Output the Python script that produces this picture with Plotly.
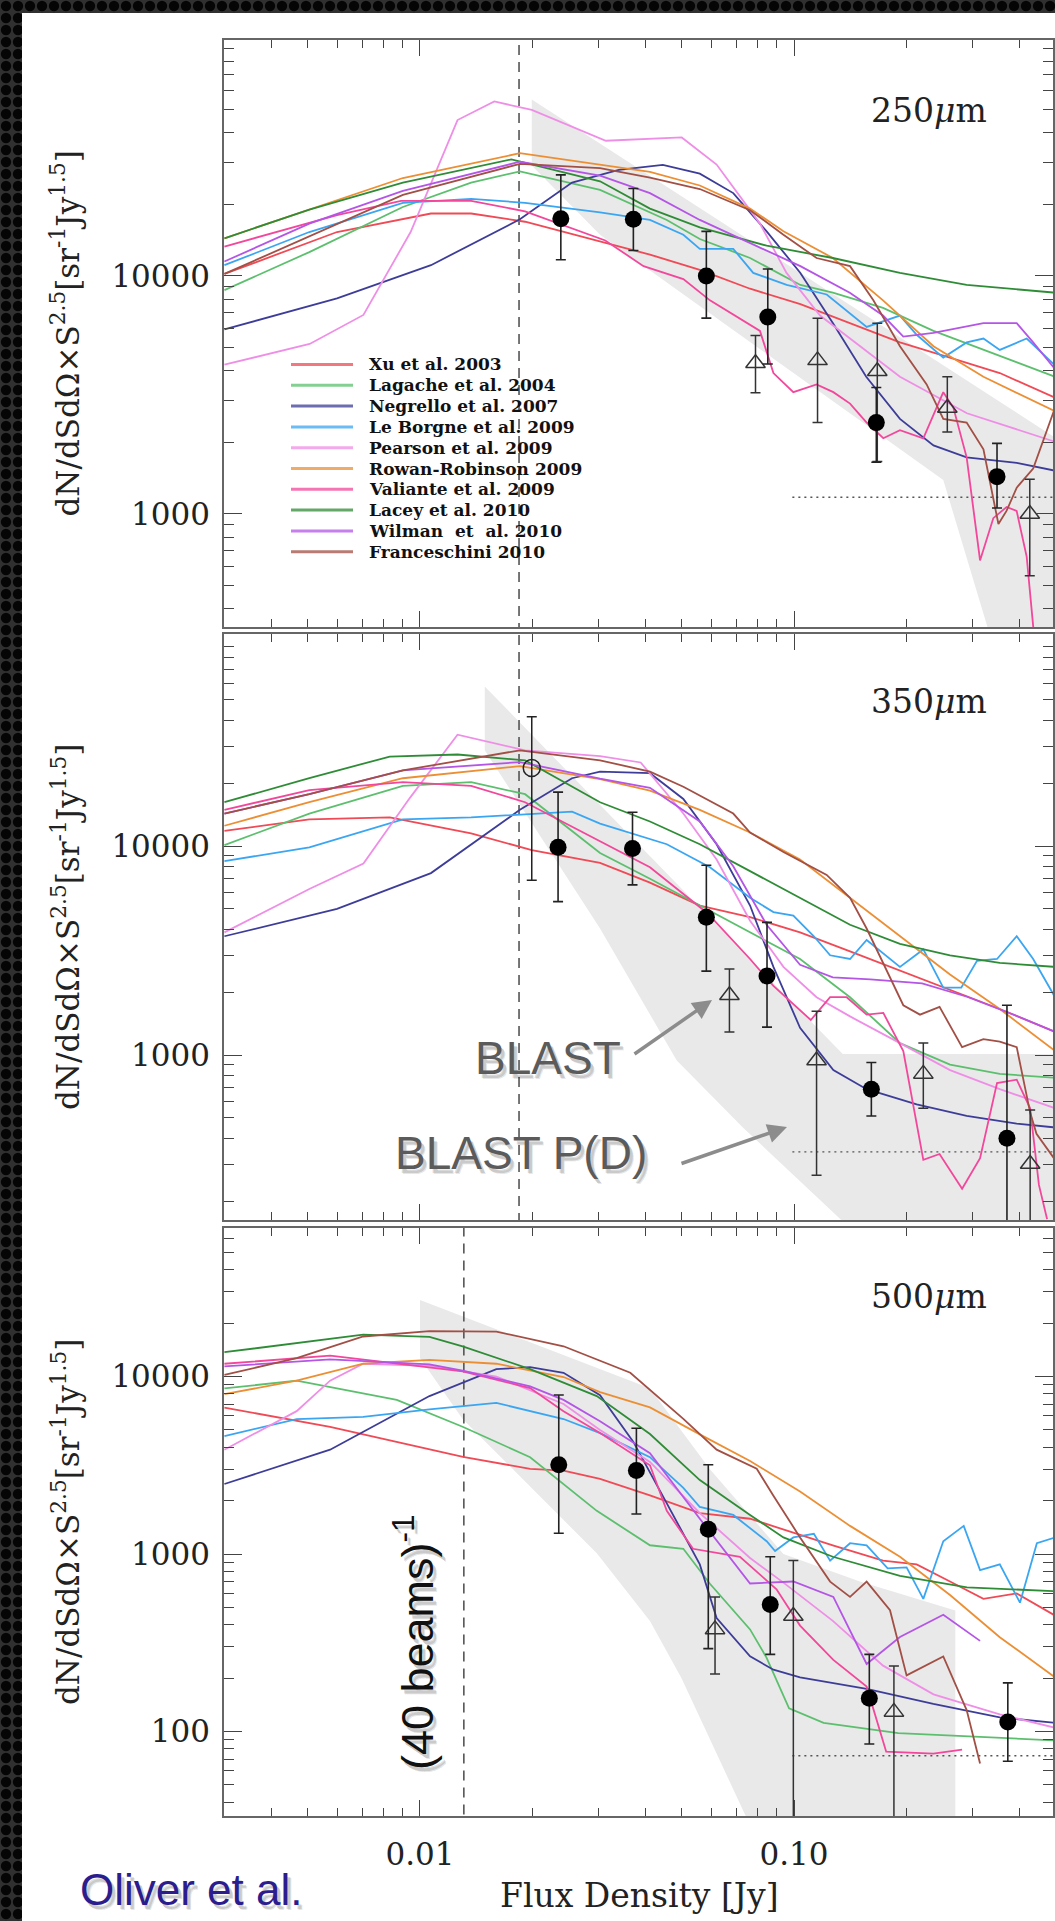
import base64
import plotly.graph_objects as go

W, H = 1055, 1921

# ---------------- legend / model info ----------------
model_names = ["Xu et al. 2003", "Lagache et al. 2004", "Negrello et al. 2007",
               "Le Borgne et al. 2009", "Pearson et al. 2009", "Rowan-Robinson 2009",
               "Valiante et al. 2009", "Lacey et al. 2010", "Wilman  et  al. 2010",
               "Franceschini 2010"]
model_colors = ["#ef4a55", "#5cbf6e", "#3d3d99", "#3aa6f2", "#ef8ee6",
                "#ec8f34", "#f2479b", "#2f8c36", "#b455e6", "#a24f45"]

# ---------------- 250 micron ----------------
xu_250_S = [0.003, 0.006, 0.0107, 0.0137, 0.0191, 0.0303, 0.0412, 0.056, 0.0763, 0.104, 0.141, 0.192, 0.261, 0.355, 0.499]
xu_250_N = [10200, 15300, 18300, 18300, 16900, 14000, 12300, 10600, 8840, 7620, 6340, 5260, 4540, 3910, 3080]
lagache_250_S = [0.003, 0.00506, 0.009, 0.0137, 0.0185, 0.0303, 0.0457, 0.056, 0.0763, 0.104, 0.127, 0.173, 0.236, 0.321, 0.499]
lagache_250_N = [8720, 12600, 19500, 24700, 27500, 23000, 17200, 14300, 11900, 9170, 8510, 7340, 5880, 4890, 3770]
negrello_250_S = [0.003, 0.006, 0.0107, 0.0185, 0.0255, 0.034, 0.0446, 0.056, 0.0688, 0.0845, 0.104, 0.127, 0.156, 0.192, 0.236, 0.2895, 0.394, 0.499]
negrello_250_N = [5960, 8050, 11100, 17300, 24700, 27900, 29300, 26900, 22300, 15400, 10300, 6340, 3770, 2510, 1940, 1730, 1640, 1520]
leborgne_250_S = [0.003, 0.00506, 0.009, 0.0137, 0.0191, 0.0303, 0.0412, 0.0506, 0.056, 0.0688, 0.0778, 0.0956, 0.1223, 0.1564, 0.192, 0.2128, 0.2507, 0.2895, 0.321, 0.355, 0.419, 0.499]
leborgne_250_N = [11100, 15300, 20300, 21100, 20300, 18500, 17200, 14900, 13000, 13000, 10300, 9170, 8360, 6110, 6820, 5660, 4540, 5260, 5460, 4890, 5460, 4210]
pearson_250_S = [0.003, 0.00507, 0.00706, 0.00944, 0.0126, 0.0158, 0.0199, 0.0314, 0.0501, 0.0621, 0.0811, 0.0955, 0.1174, 0.192, 0.29, 0.499]
pearson_250_N = [4240, 5180, 6860, 15300, 45200, 54100, 49900, 37000, 38200, 29400, 16600, 10300, 6820, 3770, 2650, 2010]
rowan_250_S = [0.003, 0.00506, 0.009, 0.0185, 0.0303, 0.0412, 0.056, 0.0763, 0.0937, 0.127, 0.173, 0.236, 0.321, 0.499]
rowan_250_N = [14400, 19000, 25800, 32800, 29400, 27400, 24000, 19200, 15400, 11900, 7900, 5070, 3770, 2700]
valiante_250_S = [0.003, 0.006, 0.0089, 0.0137, 0.0191, 0.0235, 0.0313, 0.0396, 0.0506, 0.0596, 0.0811, 0.0881, 0.0996, 0.1149, 0.1274, 0.1412, 0.1564, 0.1733, 0.192, 0.2217, 0.2507, 0.2667, 0.2895, 0.3144, 0.3411, 0.3703, 0.3938, 0.4189, 0.4363, 0.46]
valiante_250_N = [13300, 18000, 20700, 20700, 18700, 16600, 14100, 11000, 9700, 7900, 5880, 3910, 3250, 3500, 3250, 2910, 2420, 2080, 2250, 2080, 3250, 2800, 1730, 638, 960, 1070, 1030, 662, 334, 200]
lacey_250_S = [0.003, 0.00506, 0.009, 0.01755, 0.0303, 0.0412, 0.056, 0.0845, 0.127, 0.192, 0.2895, 0.499]
lacey_250_N = [14400, 19000, 24700, 30900, 25000, 19200, 16000, 13400, 11900, 10300, 9170, 8510]
wilman_250_S = [0.003, 0.00506, 0.009, 0.0185, 0.0303, 0.0412, 0.056, 0.0763, 0.104, 0.141, 0.173, 0.196, 0.236, 0.321, 0.394, 0.436, 0.499]
wilman_250_N = [11500, 16600, 22800, 30200, 26400, 22300, 17200, 13800, 11000, 8510, 6820, 5560, 5770, 6340, 6340, 5260, 4060]
franceschini_250_S = [0.003, 0.00506, 0.009, 0.0185, 0.0303, 0.0412, 0.056, 0.0763, 0.0937, 0.1149, 0.1412, 0.163, 0.192, 0.2263, 0.2507, 0.2895, 0.321, 0.352, 0.370, 0.394, 0.436, 0.499]
franceschini_250_N = [10200, 14700, 21900, 29600, 28400, 25900, 23200, 18900, 14900, 11900, 11000, 7900, 5070, 3500, 2510, 2420, 1870, 907, 1030, 1290, 1550, 2800]

circ_250_S = [0.0238, 0.0372, 0.0583, 0.0851, 0.166, 0.349]
circ_250_N = [17400, 17300, 10000, 6730, 2420, 1435]
circ_250_hi = [26600, 23300, 15400, 10700, 3400, 1980]
circ_250_lo = [11700, 12800, 6650, 4270, 1650, 1060]
tri_250_S = [0.0789, 0.1156, 0.167, 0.257, 0.427]
tri_250_N = [4300, 4420, 3980, 2790, 1000]
tri_250_hi = [5620, 6640, 6330, 3770, 1400]
tri_250_lo = [3230, 2420, 1660, 2210, 550]
band_250_S = [0.0199, 0.5, 0.5, 0.34, 0.33, 0.2507, 0.0303, 0.0199]
band_250_N = [55200, 2090, 100, 100, 330, 1390, 14900, 29100]

# ---------------- 350 micron ----------------
xu_350_S = [0.003, 0.00506, 0.0083, 0.0137, 0.0199, 0.0303, 0.0412, 0.056, 0.0763, 0.1038, 0.1412, 0.192, 0.2613, 0.355, 0.499]
xu_350_N = [11800, 13400, 13700, 11500, 9560, 8300, 6680, 5190, 4570, 3860, 3130, 2530, 2050, 1660, 1290]
lagache_350_S = [0.003, 0.00506, 0.009, 0.0137, 0.0191, 0.0303, 0.0412, 0.056, 0.0763, 0.1038, 0.1412, 0.192, 0.2613, 0.355, 0.499]
lagache_350_N = [10100, 14300, 19400, 20200, 17700, 9260, 6970, 5190, 3870, 2880, 1890, 1140, 900, 812, 778]
negrello_350_S = [0.003, 0.006, 0.0107, 0.0185, 0.0255, 0.0303, 0.0412, 0.0506, 0.0621, 0.0763, 0.0881, 0.1038, 0.1274, 0.1564, 0.2128, 0.2895, 0.394, 0.499]
negrello_350_N = [3700, 5000, 7420, 14900, 21100, 22700, 22300, 16800, 10200, 5190, 2640, 1350, 847, 686, 580, 511, 469, 450]
leborgne_350_S = [0.003, 0.00506, 0.009, 0.0137, 0.0255, 0.0303, 0.0457, 0.0596, 0.0763, 0.0881, 0.0996, 0.113, 0.1249, 0.1412, 0.1564, 0.192, 0.2217, 0.2507, 0.28, 0.3085, 0.349, 0.394, 0.436, 0.499]
leborgne_350_N = [8460, 9860, 13400, 13700, 14600, 12800, 10200, 7910, 5650, 4830, 4640, 3700, 3000, 2880, 3550, 2640, 3200, 2100, 2100, 2820, 2880, 3700, 2880, 1890]
pearson_350_S = [0.003, 0.00506, 0.00706, 0.0094, 0.0126, 0.0191, 0.0303, 0.0389, 0.0506, 0.0621, 0.0763, 0.0937, 0.1149, 0.1412, 0.192, 0.2613, 0.355, 0.499]
pearson_350_N = [3860, 6230, 8250, 17000, 34100, 28700, 26900, 25100, 14300, 8610, 4390, 2640, 1890, 1530, 1140, 847, 686, 556]
rowan_350_S = [0.003, 0.00506, 0.009, 0.0185, 0.0303, 0.0412, 0.056, 0.0763, 0.1038, 0.1412, 0.192, 0.2613, 0.355, 0.499]
rowan_350_N = [12500, 16200, 21100, 24100, 20900, 18400, 14900, 11600, 8610, 5650, 3700, 2430, 1660, 1045]
valiante_350_S = [0.003, 0.00506, 0.009, 0.0137, 0.0191, 0.0303, 0.0412, 0.0587, 0.0763, 0.0881, 0.1109, 0.1249, 0.1383, 0.1564, 0.1733, 0.196, 0.2217, 0.245, 0.2815, 0.3144, 0.349, 0.394, 0.4279, 0.4517, 0.475]
valiante_350_N = [14900, 18500, 20200, 19400, 16200, 10500, 7910, 4770, 2880, 2140, 1470, 1890, 1890, 1560, 1590, 1045, 315, 336, 229, 321, 734, 762, 556, 239, 164]
lacey_350_S = [0.003, 0.00506, 0.0083, 0.0126, 0.0191, 0.0303, 0.0412, 0.056, 0.0763, 0.1038, 0.1412, 0.192, 0.2613, 0.355, 0.499]
lacey_350_N = [16200, 21100, 26800, 27400, 25700, 16200, 13100, 10200, 7580, 5650, 4200, 3400, 3000, 2760, 2640]
wilman_350_S = [0.003, 0.00506, 0.009, 0.0185, 0.0303, 0.0412, 0.056, 0.0688, 0.0845, 0.1038, 0.127, 0.16, 0.22, 0.29, 0.39, 0.499]
wilman_350_N = [14300, 17700, 23000, 25200, 21000, 19000, 13100, 8000, 4200, 2700, 2350, 2300, 2200, 1900, 1550, 1290]
franceschini_350_S = [0.003, 0.00506, 0.009, 0.0185, 0.0303, 0.0412, 0.0506, 0.0688, 0.0763, 0.0937, 0.1223, 0.1412, 0.1564, 0.1733, 0.196, 0.2172, 0.245, 0.2815, 0.3209, 0.355, 0.394, 0.428, 0.445, 0.499]
franceschini_350_N = [14300, 17700, 23000, 28700, 25700, 22700, 19200, 14300, 11600, 9360, 7270, 5650, 4030, 2760, 1730, 1560, 1700, 1090, 1190, 1160, 1090, 530, 420, 315]

circ_350_S = [0.0234, 0.0370, 0.0583, 0.0847, 0.161, 0.371]
circ_350_N = [9860, 9730, 4560, 2390, 686, 400]
circ_350_hi = [18100, 14500, 8090, 4310, 921, 1730]
circ_350_lo = [5420, 6520, 2520, 1360, 511, 100]
open_350_S = [0.0199]
open_350_N = [23600]
open_350_hi = [41500]
open_350_lo = [6850]
tri_350_S = [0.0672, 0.1149, 0.2217, 0.428]
tri_350_N = [1930, 941, 812, 301]
tri_350_hi = [2580, 1620, 1140, 546]
tri_350_lo = [1290, 266, 556, 100]
band_350_S = [0.0149, 0.135, 0.5, 0.5, 0.135, 0.073, 0.0486, 0.0303, 0.0149]
band_350_N = [58000, 1010, 1010, 100, 160, 450, 940, 4030, 28700]

# ---------------- 500 micron ----------------
xu_500_S = [0.003, 0.00575, 0.01303, 0.0197, 0.0242, 0.0303, 0.0412, 0.056, 0.0763, 0.0937, 0.127, 0.173, 0.2128, 0.2613, 0.321, 0.394, 0.499]
xu_500_N = [6680, 5210, 3520, 3020, 2950, 2650, 2140, 1700, 1580, 1370, 1120, 918, 874, 700, 559, 600, 450]
lagache_500_S = [0.003, 0.00468, 0.00867, 0.013, 0.0197, 0.0297, 0.0412, 0.0506, 0.0596, 0.0763, 0.0845, 0.097, 0.12, 0.19, 0.5]
lagache_500_N = [8570, 9470, 7380, 5210, 3510, 1750, 1120, 1070, 680, 376, 260, 135, 112, 98, 89]
negrello_500_S = [0.003, 0.00575, 0.0106, 0.016, 0.0197, 0.0242, 0.0303, 0.0372, 0.0457, 0.056, 0.0621, 0.0763, 0.0881, 0.1038, 0.1564, 0.2358, 0.355, 0.499]
negrello_500_N = [2480, 3870, 7760, 11000, 11300, 10500, 7840, 4280, 1930, 874, 436, 265, 223, 202, 174, 143, 120, 112]
leborgne_500_S = [0.003, 0.00468, 0.00705, 0.0106, 0.016, 0.0242, 0.0303, 0.0412, 0.0506, 0.056, 0.0688, 0.0845, 0.089, 0.0996, 0.113, 0.1249, 0.1412, 0.1564, 0.178, 0.2, 0.2217, 0.2507, 0.2843, 0.3144, 0.355, 0.402, 0.446, 0.499]
leborgne_500_N = [4620, 5760, 5920, 6530, 7100, 5760, 4800, 3510, 2360, 1840, 1660, 1180, 1040, 1240, 1300, 918, 1150, 1120, 831, 840, 559, 1180, 1440, 812, 874, 532, 1150, 1240]
pearson_500_S = [0.003, 0.00468, 0.00575, 0.00705, 0.0106, 0.016, 0.0242, 0.0303, 0.0412, 0.056, 0.0763, 0.0937, 0.127, 0.173, 0.236, 0.355, 0.499]
pearson_500_N = [3870, 6380, 9470, 11800, 11500, 10000, 7000, 5000, 3300, 1700, 950, 690, 420, 235, 162, 125, 105]
rowan_500_S = [0.003, 0.00468, 0.00705, 0.0106, 0.016, 0.0242, 0.0303, 0.0412, 0.056, 0.0763, 0.1038, 0.1412, 0.192, 0.2613, 0.355, 0.499]
rowan_500_N = [7960, 9470, 11800, 12400, 11800, 9930, 8160, 6700, 4720, 3340, 2250, 1440, 965, 587, 340, 202]
valiante_500_S = [0.003, 0.00575, 0.013, 0.0197, 0.0242, 0.0303, 0.0412, 0.0457, 0.0537, 0.0717, 0.0898, 0.1038, 0.1274, 0.1564, 0.1764, 0.2358, 0.2815]
valiante_500_N = [11800, 13100, 10700, 8600, 6380, 4800, 3160, 1750, 1070, 965, 633, 395, 253, 179, 77, 75, 79]
lacey_500_S = [0.003, 0.00705, 0.0106, 0.013, 0.0197, 0.0297, 0.0412, 0.056, 0.0763, 0.0937, 0.127, 0.192, 0.29, 0.499]
lacey_500_N = [13700, 17200, 16700, 14800, 11000, 7760, 4740, 2610, 1660, 1240, 965, 753, 649, 617]
wilman_500_S = [0.003, 0.00575, 0.0106, 0.013, 0.0197, 0.0242, 0.0303, 0.0412, 0.056, 0.0763, 0.0996, 0.1274, 0.1564, 0.192, 0.2507, 0.3144]
wilman_500_N = [11400, 12500, 11700, 10800, 8800, 7380, 5600, 3700, 1580, 682, 700, 573, 240, 341, 455, 324]
franceschini_500_S = [0.003, 0.00468, 0.00705, 0.0106, 0.016, 0.0242, 0.0365, 0.0506, 0.0621, 0.0795, 0.0881, 0.1038, 0.1249, 0.1412, 0.1564, 0.1806, 0.2, 0.2507, 0.2895, 0.3144]
franceschini_500_N = [10200, 12700, 16800, 18000, 17900, 14800, 10500, 5770, 3870, 3020, 2130, 1240, 699, 573, 699, 482, 207, 265, 132, 66]

circ_500_S = [0.0235, 0.0379, 0.059, 0.0864, 0.159, 0.373]
circ_500_N = [3180, 2950, 1380, 519, 154, 113]
circ_500_hi = [7870, 5110, 3180, 965, 272, 188]
circ_500_lo = [1310, 1680, 293, 272, 85, 68]
tri_500_S = [0.0615, 0.0996, 0.185]
tri_500_N = [376, 447, 129]
tri_500_hi = [573, 918, 234]
tri_500_lo = [211, 10, 10]
band_500_S = [0.01, 0.0412, 0.0596, 0.0937, 0.15, 0.27, 0.27, 0.077, 0.075, 0.05, 0.0412, 0.0297, 0.013, 0.01]
band_500_N = [27000, 8600, 3000, 1000, 700, 480, 20, 20, 32, 200, 420, 1010, 5770, 12700]

# reference lines: (40 beams)^-1 limit and P(D) lower limit
beam_S = [0.0184, 0.0184, 0.0131]
pd_start_S = [0.099, 0.099, 0.099]
pd_level_N = [1175, 344, 73]

panel_labels = ["250<i>μ</i>m", "350<i>μ</i>m", "500<i>μ</i>m"]
y_tickvals = [[1000, 10000], [1000, 10000], [100, 1000, 10000]]
x_tickvals = [0.01, 0.1]
x_ticktext = ["0.01", "0.10"]

models_250 = [(xu_250_S, xu_250_N), (lagache_250_S, lagache_250_N), (negrello_250_S, negrello_250_N),
              (leborgne_250_S, leborgne_250_N), (pearson_250_S, pearson_250_N), (rowan_250_S, rowan_250_N),
              (valiante_250_S, valiante_250_N), (lacey_250_S, lacey_250_N), (wilman_250_S, wilman_250_N),
              (franceschini_250_S, franceschini_250_N)]
models_350 = [(xu_350_S, xu_350_N), (lagache_350_S, lagache_350_N), (negrello_350_S, negrello_350_N),
              (leborgne_350_S, leborgne_350_N), (pearson_350_S, pearson_350_N), (rowan_350_S, rowan_350_N),
              (valiante_350_S, valiante_350_N), (lacey_350_S, lacey_350_N), (wilman_350_S, wilman_350_N),
              (franceschini_350_S, franceschini_350_N)]
models_500 = [(xu_500_S, xu_500_N), (lagache_500_S, lagache_500_N), (negrello_500_S, negrello_500_N),
              (leborgne_500_S, leborgne_500_N), (pearson_500_S, pearson_500_N), (rowan_500_S, rowan_500_N),
              (valiante_500_S, valiante_500_N), (lacey_500_S, lacey_500_N), (wilman_500_S, wilman_500_N),
              (franceschini_500_S, franceschini_500_N)]

panels = [
    dict(models=models_250, band=(band_250_S, band_250_N),
         circ=(circ_250_S, circ_250_N, circ_250_hi, circ_250_lo),
         tri=(tri_250_S, tri_250_N, tri_250_hi, tri_250_lo), opn=None),
    dict(models=models_350, band=(band_350_S, band_350_N),
         circ=(circ_350_S, circ_350_N, circ_350_hi, circ_350_lo),
         tri=(tri_350_S, tri_350_N, tri_350_hi, tri_350_lo),
         opn=(open_350_S, open_350_N, open_350_hi, open_350_lo)),
    dict(models=models_500, band=(band_500_S, band_500_N),
         circ=(circ_500_S, circ_500_N, circ_500_hi, circ_500_lo),
         tri=(tri_500_S, tri_500_N, tri_500_hi, tri_500_lo), opn=None),
]

# ---------------- geometry (pixels) ----------------
PLOT_L, PLOT_R = 224, 1053
PANEL_PX = [(40, 627), (634, 1220), (1228, 1816)]
X_RANGE = [-2.524, -0.3075]
Y_RANGES = [[2.525, 4.9916], [2.2105, 5.0144], [1.524, 4.8366]]

def px(x):
    return x / W

def py(y):
    return 1 - y / H

fig = go.Figure()

def err(vals, hi, lo, color, thick, width):
    return dict(type="data", symmetric=False,
                array=[h - v for h, v in zip(hi, vals)],
                arrayminus=[v - l for v, l in zip(vals, lo)],
                color=color, thickness=thick, width=width)

for i, p in enumerate(panels):
    xa = "x" if i == 0 else f"x{i+1}"
    ya = "y" if i == 0 else f"y{i+1}"
    bs, bn = p["band"]
    fig.add_trace(go.Scatter(x=bs, y=bn, xaxis=xa, yaxis=ya, mode="lines", fill="toself",
                             fillcolor="#e9e9e9", line=dict(width=0), hoverinfo="skip", showlegend=False))
    fig.add_trace(go.Scatter(x=[beam_S[i], beam_S[i]], y=[1, 1e6], xaxis=xa, yaxis=ya, mode="lines",
                             line=dict(color="#555", width=1.6, dash="10px,7px"), showlegend=False, hoverinfo="skip"))
    fig.add_trace(go.Scatter(x=[pd_start_S[i], 2.0], y=[pd_level_N[i], pd_level_N[i]], xaxis=xa, yaxis=ya,
                             mode="lines", line=dict(color="#555", width=1.4, dash="2px,4px"),
                             showlegend=False, hoverinfo="skip"))
    for (s, n), name, col in zip(p["models"], model_names, model_colors):
        fig.add_trace(go.Scatter(x=s, y=n, xaxis=xa, yaxis=ya, mode="lines", name=name,
                                 line=dict(color=col, width=1.8), showlegend=False))
    ts, tn, th, tl = p["tri"]
    fig.add_trace(go.Scatter(x=ts, y=tn, xaxis=xa, yaxis=ya, mode="markers", name="BLAST",
                             marker=dict(symbol="triangle-up-open", size=17, color="#333",
                                         line=dict(width=1.5, color="#333")),
                             error_y=err(tn, th, tl, "#333", 1.5, 5), showlegend=False))
    if p["opn"] is not None:
        os_, on, oh, ol = p["opn"]
        fig.add_trace(go.Scatter(x=os_, y=on, xaxis=xa, yaxis=ya, mode="markers",
                                 marker=dict(symbol="circle-open", size=17, color="#222",
                                             line=dict(width=1.5, color="#222")),
                                 error_y=err(on, oh, ol, "#222", 1.5, 5), showlegend=False))
    cs, cn, ch, cl = p["circ"]
    fig.add_trace(go.Scatter(x=cs, y=cn, xaxis=xa, yaxis=ya, mode="markers", name="SPIRE",
                             marker=dict(symbol="circle", size=17, color="black"),
                             error_y=err(cn, ch, cl, "#222", 1.6, 5), showlegend=False))

x_minor = [k * 10 ** e for e in (-3, -2, -1) for k in range(2, 10)]
y_minor = [k * 10 ** e for e in (1, 2, 3, 4) for k in range(2, 10)]
tickfont = dict(family="DejaVu Serif", size=31, color="#222")

layout = dict(
    width=W, height=H, autosize=False,
    margin=dict(l=0, r=0, t=0, b=0),
    paper_bgcolor="#1c1c1c", plot_bgcolor="rgba(0,0,0,0)",
    showlegend=False,
)
for i in range(3):
    xk = "xaxis" if i == 0 else f"xaxis{i+1}"
    yk = "yaxis" if i == 0 else f"yaxis{i+1}"
    top, bot = PANEL_PX[i]
    layout[xk] = dict(
        type="log", range=X_RANGE, domain=[px(PLOT_L), px(PLOT_R)],
        anchor="y" if i == 0 else f"y{i+1}",
        showline=True, linecolor="#666", linewidth=1.6, mirror="allticks",
        ticks="inside", ticklen=16, tickwidth=1.3, tickcolor="#444",
        tickmode="array", tickvals=x_tickvals, ticktext=x_ticktext,
        showticklabels=(i == 2), tickfont=tickfont, ticklabelstandoff=10,
        showgrid=False, zeroline=False,
        minor=dict(tickmode="array", tickvals=x_minor, ticks="inside", ticklen=8,
                   tickwidth=1.1, tickcolor="#444", showgrid=False),
    )
    layout[yk] = dict(
        type="log", range=Y_RANGES[i], domain=[py(bot), py(top)],
        anchor="x" if i == 0 else f"x{i+1}",
        showline=True, linecolor="#666", linewidth=1.6, mirror="allticks",
        ticks="inside", ticklen=18, tickwidth=1.3, tickcolor="#444",
        tickmode="array", tickvals=y_tickvals[i], ticktext=[str(v) for v in y_tickvals[i]],
        tickfont=tickfont, ticklabelstandoff=6,
        showgrid=False, zeroline=False,
        minor=dict(tickmode="array", tickvals=y_minor, ticks="inside", ticklen=10,
                   tickwidth=1.1, tickcolor="#444", showgrid=False),
    )
fig.update_layout(**layout)

# background texture + white card
svg = (f'<svg xmlns="http://www.w3.org/2000/svg" width="{W}" height="{H}">'
       '<defs><pattern id="p" width="12" height="12" patternUnits="userSpaceOnUse">'
       '<rect width="12" height="12" fill="#303030"/><circle cx="6" cy="6" r="5.2" fill="#050505"/>'
       '</pattern></defs>'
       f'<rect width="{W}" height="{H}" fill="url(#p)"/></svg>')
fig.add_layout_image(dict(source="data:image/svg+xml;base64," + base64.b64encode(svg.encode()).decode(),
                          xref="paper", yref="paper", x=0, y=1, sizex=1, sizey=1,
                          xanchor="left", yanchor="top", sizing="stretch", layer="below"))
fig.add_shape(type="rect", xref="paper", yref="paper", x0=px(22), x1=1.02, y0=-0.02, y1=py(13),
              fillcolor="white", line=dict(width=0), layer="below")

ann = []
ytitle = "dN/dSdΩ×S<sup>2.5</sup>[sr<sup>-1</sup>Jy<sup>1.5</sup>]"
centers = [(PANEL_PX[i][0] + PANEL_PX[i][1]) / 2 for i in range(3)]
label_y = [111, 702, 1296]
for i in range(3):
    ann.append(dict(text=ytitle, x=px(66), y=py(centers[i]), xref="paper", yref="paper",
                    textangle=-90, showarrow=False, xanchor="center", yanchor="middle",
                    font=dict(family="DejaVu Serif", size=31, color="#222")))
    ann.append(dict(text=panel_labels[i], x=px(929), y=py(label_y[i]), xref="paper", yref="paper",
                    showarrow=False, xanchor="center", yanchor="middle",
                    font=dict(family="DejaVu Serif", size=33, color="#222")))
ann.append(dict(text="Flux Density [Jy]", x=px(639), y=py(1895), xref="paper", yref="paper",
                showarrow=False, xanchor="center", yanchor="middle",
                font=dict(family="DejaVu Serif", size=33, color="#222")))

def shadowed(text, x, y, size, color, angle=0):
    out = []
    for dx, dy, c in [(4, -5, "rgba(0,0,0,0.10)"), (3, -4, "rgba(0,0,0,0.14)")]:
        out.append(dict(text=text, x=px(x), y=py(y), xref="paper", yref="paper", showarrow=False,
                        xanchor="center", yanchor="middle", textangle=angle, xshift=dx, yshift=dy,
                        font=dict(family="Liberation Sans", size=size, color=c)))
    out.append(dict(text=text, x=px(x), y=py(y), xref="paper", yref="paper", showarrow=False,
                    xanchor="center", yanchor="middle", textangle=angle,
                    font=dict(family="Liberation Sans", size=size, color=color)))
    return out

ann += shadowed("Oliver et al.", 191, 1889, 44, "#2c1d8e")
ann += shadowed("(40 beams)<sup>-1</sup>", 414, 1642, 45, "#111", angle=-90)
ann += shadowed("BLAST", 548, 1058, 46, "#5b5b5b")
ann += shadowed("BLAST P(D)", 521, 1153, 46, "#5b5b5b")

# arrows
for (hx, hy, tx, ty) in [(712, 1000, 633, 1055), (787, 1127, 680, 1164)]:
    ann.append(dict(text="", x=px(hx), y=py(hy), xref="paper", yref="paper", showarrow=True,
                    ax=tx - hx, ay=ty - hy, arrowhead=2, arrowsize=1.1, arrowwidth=3.5,
                    arrowcolor="#8c8c8c", standoff=0, startstandoff=0))

# manual legend in top panel
LEG_X0, LEG_X1, LEG_TX, LEG_Y0, LEG_DY = 291, 353, 367, 364.5, 20.8
for k, (name, col) in enumerate(zip(model_names, model_colors)):
    yy = LEG_Y0 + LEG_DY * k
    fig.add_shape(type="line", xref="paper", yref="paper", x0=px(LEG_X0), x1=px(LEG_X1),
                  y0=py(yy), y1=py(yy), line=dict(color=col, width=3), opacity=0.75, layer="above")
    ann.append(dict(text=name, x=px(LEG_TX), y=py(yy), xref="paper", yref="paper", showarrow=False,
                    xanchor="left", yanchor="middle",
                    font=dict(family="DejaVu Serif", size=17, color="#111", weight="bold")))

fig.update_layout(annotations=ann)
fig.write_html("out.html", config={"displayModeBar": False},
               post_script="document.body.style.margin='0';document.body.style.background='#1c1c1c';")
